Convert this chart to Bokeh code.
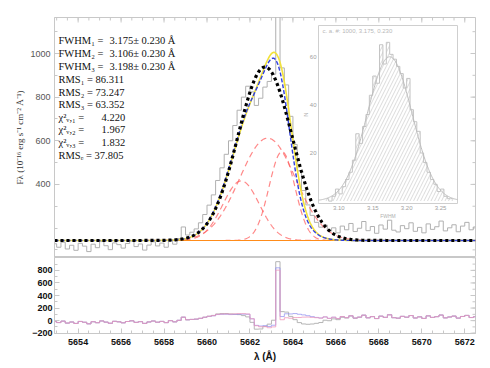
import numpy as np
from bokeh.plotting import figure
from bokeh.layouts import column
from bokeh.models import Range1d, FixedTicker, Label
from bokeh.embed import file_html
from bokeh.resources import INLINE
from bokeh.core.properties import value

# ---------------- data ----------------
wave_start = 5652.9
wave_step = 0.2
flux = [128, 112, 135, 104, 121, 98, 130, 117, 92, 126,
        110, 138, 119, 101, 132, 124, 108, 129, 140, 115,
        127, 99, 122, 137, 118, 131, 112, 144, 126, 152,
        205, 168, 181, 196, 224, 262, 305, 352, 418, 476,
        538, 600, 670, 740, 800, 850, 824, 762, 795, 846,
        872, 905, 1790, 934, 856, 712, 583, 462, 372, 306,
        258, 226, 204, 214, 186, 201, 178, 209, 192, 221,
        184, 199, 230, 188, 207, 176, 214, 195, 236, 190,
        182, 211, 197, 224, 185, 203, 178, 219, 194, 206,
        232, 187, 201, 215, 183, 209, 226, 192, 205]
continuum = 143.0

# fits: (amplitude, centre, sigma)
fit_black = [(795, 5662.70, 1.25)]
fit_blue = [(633, 5662.30, 1.13), (380, 5663.35, 0.55)]
fit_yellow = [(620, 5662.30, 1.13), (430, 5663.40, 0.60)]
components = [(273, 5661.59, 0.85), (469, 5662.82, 1.30), (407, 5663.49, 0.60)]

# inset histogram of FWHM
hist_start = 3.080
hist_bin = 0.005
hist_counts = [1, 0, 2, 5, 3, 6, 9, 12, 17, 28,
               24, 31, 36, 44, 52, 49, 65, 57, 66, 61,
               59, 56, 53, 47, 51, 38, 33, 29, 20, 16,
               12, 9, 7, 4, 5, 2, 1, 1]
hist_fit = (60, 3.175, 0.033)
inset_xlim = (3.07, 3.275)
inset_ylim = (-1, 73)
inset_xticks = [3.10, 3.15, 3.20, 3.25]
inset_yticks = [20, 40, 60]
inset_title = "c. a. #:  1000,  3.175,  0.230"

x_ticks = [5654, 5656, 5658, 5660, 5662, 5664, 5666, 5668, 5670, 5672]
x_minor = [5653 + 0.5 * k for k in range(40)]
y_ticks_top = [400, 600, 800, 1000]
y_minor_top = list(range(100, 1200, 100))
y_ticks_bot = [-200, 0, 200, 400, 600, 800]
y_minor_bot = list(range(-200, 1001, 100))

fwhm_names = ["FWHM\u2081 =", "FWHM\u2082 =", "FWHM\u2083 ="]
fwhm_vals = ["3.175\u00b1 0.230 \u00c5", "3.106\u00b1 0.230 \u00c5", "3.198\u00b1 0.230 \u00c5"]
rms_lines = ["RMS\u2081 = 86.311", "RMS\u2082 = 73.247", "RMS\u2083 = 63.352"]
chi_names = ["\u03c7\u00b2\u1d65,\u2081 =", "\u03c7\u00b2\u1d65,\u2082 =", "\u03c7\u00b2\u1d65,\u2083 ="]
chi_vals = ["4.220", "1.967", "1.832"]
rmse_line = "RMS\u2091 = 37.805"

# ---------------- helpers ----------------
def gauss_sum(x, comps):
    y = np.full_like(x, continuum, dtype=float)
    for a, mu, s in comps:
        y = y + a * np.exp(-0.5 * ((x - mu) / s) ** 2)
    return y

wave = wave_start + wave_step * np.arange(len(flux))
flux_a = np.array(flux, dtype=float)
xf = np.linspace(5652.9, 5672.5, 900)

FRAME_W, FRAME_H1, FRAME_H2 = 421, 240, 76
BL, BR, BT, BB = 54, 7, 17, 28
LIGHT = "#c8c8c8"
XR = (5652.9, 5672.5)
YR1 = (65, 1165)
YR2 = (-205, 1005)


def style_axis(ax, label_color, size, bold):
    ax.axis_line_color = LIGHT
    ax.major_tick_line_color = LIGHT
    ax.minor_tick_line_color = LIGHT
    ax.major_tick_in = 5
    ax.major_tick_out = 0
    ax.minor_tick_in = 3
    ax.minor_tick_out = 0
    ax.major_label_text_color = label_color
    ax.major_label_text_font_size = size
    ax.major_label_text_font = "Liberation Sans"
    ax.major_label_text_font_style = "bold" if bold else "normal"


def edge_ticks(p, yr, fh, right_ticks, right_minor, top_ticks=None, top_minor=None):
    dxpp = (XR[1] - XR[0]) / FRAME_W
    dypp = (yr[1] - yr[0]) / fh
    for ticks, ln in ((right_ticks, 5), (right_minor, 3)):
        p.segment(x0=[XR[1]] * len(ticks), x1=[XR[1] - ln * dxpp] * len(ticks), y0=ticks, y1=ticks,
                  line_color=LIGHT, line_width=1)
    if top_ticks is not None:
        for ticks, ln in ((top_ticks, 5), (top_minor, 3)):
            p.segment(x0=ticks, x1=ticks, y0=[yr[1]] * len(ticks), y1=[yr[1] - ln * dypp] * len(ticks),
                      line_color=LIGHT, line_width=1)


# ---------------- top panel ----------------
p1 = figure(frame_width=FRAME_W, frame_height=FRAME_H1,
            x_range=Range1d(*XR), y_range=Range1d(*YR1),
            x_axis_location=None, output_backend="svg", toolbar_location=None,
            min_border_left=BL, min_border_right=BR, min_border_top=BT, min_border_bottom=0,
            outline_line_color=LIGHT, background_fill_color="white", border_fill_color="white")
p1.grid.grid_line_color = None

yax = p1.yaxis[0]
yax.ticker = FixedTicker(ticks=y_ticks_top, minor_ticks=y_minor_top)
style_axis(yax, "#555555", "9px", False)
yax.major_label_standoff = 4
yax.axis_label = "F\u03bb (10\u207b\u00b9\u2076 erg s\u207b\u00b9 cm\u207b\u00b2 \u00c5\u207b\u00b9)"
yax.axis_label_text_font = "Liberation Serif"
yax.axis_label_text_font_size = "9px"
yax.axis_label_text_font_style = "normal"
yax.axis_label_text_color = "#333333"
yax.axis_label_standoff = 2

edge_ticks(p1, YR1, FRAME_H1, y_ticks_top, y_minor_top, x_ticks, x_minor)

# observed spectrum
p1.step(wave, flux_a, mode="center", line_color="#b0b0b0", line_width=1)

# red components and fits
for comp in components:
    p1.line(xf, gauss_sum(xf, [comp]), line_color="#ff6060", line_alpha=0.75,
            line_dash="6 4", line_width=1.2)
p1.line(xf, np.full_like(xf, continuum), line_color="#ff8c1a", line_width=1.2)
p1.line(xf, gauss_sum(xf, fit_yellow), line_color="#f2e23a", line_width=1.6)
p1.line(xf, gauss_sum(xf, fit_blue), line_color="#2f3fe0", line_width=1.4, line_dash="4 2")
p1.line(xf, gauss_sum(xf, fit_black), line_color="black", line_width=3.2, line_dash="3 3")

# ---------------- inset (drawn in the top panel via extra ranges) ----------------
ins_l, ins_r, ins_t, ins_b = 264, 403, 8, 186   # inset box in frame pixels
sx = (inset_xlim[1] - inset_xlim[0]) / (ins_r - ins_l)
sy = (inset_ylim[1] - inset_ylim[0]) / (ins_b - ins_t)
p1.extra_x_ranges = {"ix": Range1d(inset_xlim[0] - ins_l * sx, inset_xlim[1] + (FRAME_W - ins_r) * sx)}
p1.extra_y_ranges = {"iy": Range1d(inset_ylim[0] - (FRAME_H1 - ins_b) * sy, inset_ylim[1] + ins_t * sy)}
kw = dict(x_range_name="ix", y_range_name="iy")

p1.quad(left=[inset_xlim[0]], right=[inset_xlim[1]], bottom=[inset_ylim[0]], top=[inset_ylim[1]],
        fill_color="white", line_color="#cfcfcf", line_width=1, **kw)
edges = hist_start + hist_bin * np.arange(len(hist_counts) + 1)
centers = 0.5 * (edges[:-1] + edges[1:])
p1.quad(left=edges[:-1], right=edges[1:], bottom=0, top=hist_counts,
        fill_alpha=0, line_color=None, hatch_pattern="/", hatch_color="#d0d0d0",
        hatch_scale=7, hatch_weight=0.8, **kw)
p1.step(centers, hist_counts, mode="center", line_color="#c4c4c4", line_width=1, **kw)
xi = np.linspace(inset_xlim[0], inset_xlim[1], 300)
a_h, mu_h, s_h = hist_fit
p1.line(xi, a_h * np.exp(-0.5 * ((xi - mu_h) / s_h) ** 2), line_color="#bdbdbd", line_width=1, **kw)

p1.text(x=inset_xticks, y=[inset_ylim[0]] * len(inset_xticks),
        text=[f"{t:.2f}" for t in inset_xticks], text_font=value("Liberation Sans"),
        text_font_size="6px", text_color="#a0a0a0", text_align="center", text_baseline="top",
        y_offset=2, **kw)
p1.text(x=[inset_xlim[0]] * len(inset_yticks), y=inset_yticks,
        text=[str(t) for t in inset_yticks], text_font=value("Liberation Sans"),
        text_font_size="6px", text_color="#a0a0a0", text_align="right", text_baseline="middle",
        x_offset=-2, **kw)
p1.text(x=[inset_xlim[0]], y=[inset_ylim[1]], text=[inset_title], text_font=value("Liberation Sans"),
        text_font_size="6px", text_color="#b8b8b8", text_align="left", text_baseline="top",
        x_offset=4, y_offset=2, **kw)
p1.text(x=[0.5 * (inset_xlim[0] + inset_xlim[1])], y=[inset_ylim[0]], text=["FWHM"],
        text_font=value("Liberation Sans"), text_font_size="5px", text_color="#b0b0b0",
        text_align="center", text_baseline="top", y_offset=9, **kw)
p1.text(x=[inset_xlim[0]], y=[0.5 * (inset_ylim[0] + inset_ylim[1])], text=["N"],
        text_font=value("Liberation Sans"), text_font_size="6px", text_color="#b0b0b0",
        text_align="center", text_baseline="middle", x_offset=-13, angle=np.pi / 2, **kw)

# ---------------- text block ----------------
def add_label(x, ypage, txt):
    p1.add_layout(Label(x=x, y=FRAME_H1 - ypage, x_units="screen", y_units="screen", text=txt,
                        text_font="Liberation Serif", text_font_size="10.5px", text_color="#111111",
                        text_baseline="middle"))

rows = [23, 36, 49, 62, 75, 87, 100, 112, 125, 138]   # offsets below the frame top
for k in range(3):
    add_label(4, rows[k], fwhm_names[k])
    add_label(55, rows[k], fwhm_vals[k])
for k in range(3):
    add_label(4, rows[3 + k], rms_lines[k])
for k in range(3):
    add_label(4, rows[6 + k], chi_names[k])
    add_label(47, rows[6 + k], chi_vals[k])
add_label(4, rows[9], rmse_line)

# ---------------- bottom panel (residuals) ----------------
p2 = figure(frame_width=FRAME_W, frame_height=FRAME_H2,
            x_range=p1.x_range, y_range=Range1d(*YR2),
            output_backend="svg", toolbar_location=None,
            min_border_left=BL, min_border_right=BR, min_border_top=0, min_border_bottom=BB,
            outline_line_color=LIGHT, background_fill_color="white", border_fill_color="white")
p2.grid.grid_line_color = None
xax = p2.xaxis[0]
xax.ticker = FixedTicker(ticks=x_ticks, minor_ticks=x_minor)
style_axis(xax, "#111111", "9px", True)
xax.major_label_standoff = 5
xax.axis_label = "\u03bb (\u00c5)"
xax.axis_label_text_font = "Liberation Sans"
xax.axis_label_text_font_size = "10px"
xax.axis_label_text_font_style = "bold"
xax.axis_label_text_color = "#111111"
xax.axis_label_standoff = 3
yax2 = p2.yaxis[0]
yax2.ticker = FixedTicker(ticks=y_ticks_bot, minor_ticks=y_minor_bot)
style_axis(yax2, "#111111", "9px", True)
yax2.major_label_standoff = 2
edge_ticks(p2, YR2, FRAME_H2, y_ticks_bot, y_minor_bot)

p2.step(wave, flux_a - gauss_sum(wave, fit_black), mode="center", line_color="#b5b5b5", line_width=1)
p2.step(wave, flux_a - gauss_sum(wave, fit_blue), mode="center", line_color="#8c8cf0", line_alpha=0.7, line_width=1)
p2.step(wave, flux_a - gauss_sum(wave, fit_yellow), mode="center", line_color="#ee99bb", line_alpha=0.8, line_width=1)

layout = column(p1, p2, spacing=0)
open("out.html", "w").write(file_html(layout, INLINE))
